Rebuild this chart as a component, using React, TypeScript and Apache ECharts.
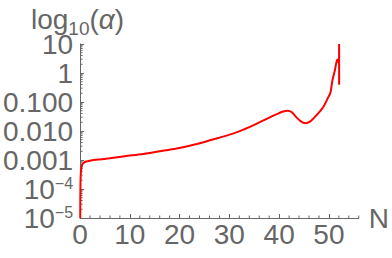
import React, { useEffect, useRef } from "react";
import * as echarts from "echarts";

// Data
const nValues = [
  0.03, 0.08, 0.2, 0.45, 0.75, 1.2, 2.0, 4.0, 6.0, 9.0, 12.7, 16, 19.4, 22, 25, 28,
  30.9, 33, 35, 37.5, 39.5, 40.8, 41.7, 42.5, 43.3, 44.3, 45.2, 46.2, 47.5,
  48.9, 49.9, 50.3, 50.7, 51.2, 51.7, 52.0, 52.05, 52.05,
];
const alphaValues = [
  1.0e-5, 1.5e-4, 4.5e-4, 7.0e-4, 8.1e-4, 8.9e-4, 9.5e-4, 1.05e-3, 1.15e-3, 1.35e-3,
  1.62e-3, 2.0e-3, 2.5e-3, 3.1e-3, 4.2e-3, 5.9e-3, 8.3e-3, 0.0115, 0.0162, 0.0263,
  0.038, 0.047, 0.05, 0.045, 0.032, 0.022, 0.0186, 0.021, 0.035, 0.069, 0.15, 0.21,
  0.55, 1.25, 2.9, 2.2, 10, 0.39,
];

const yTickValues = [1e-5, 1e-4, 0.001, 0.01, 0.1, 1, 10];
const yTickLabels = ["{b|10}{s|−5}", "{b|10}{s|−4}", "0.001", "0.010", "0.100", "1", "10"];
const xTickLabels = ["0", "10", "20", "30", "40", "50"];
const xMajorTicks = [0, 10, 20, 30, 40, 50];
const xMinorTicks = [2, 4, 6, 8, 12, 14, 16, 18, 22, 24, 26, 28, 32, 34, 36, 38, 42, 44, 46, 48, 52, 54, 56];
const yMinorMultipliers = [2, 3, 4, 5, 6, 7, 8, 9];

const GRAY = "#666666";
const FONT = "'Liberation Sans', Arial, Helvetica, sans-serif";

export default function App() {
  const ref = useRef<HTMLDivElement>(null);
  useEffect(() => {
    if (!ref.current) return;
    const chart = echarts.init(ref.current, undefined, { renderer: "svg" });
    const yMinor: number[][] = [];
    for (let i = 0; i < yTickValues.length - 1; i++) {
      for (const m of yMinorMultipliers) yMinor.push([0, yTickValues[i] * m]);
    }
    const xMinor = xMinorTicks.map((v) => [v, 1e-5]);
    chart.setOption({
      animation: false,
      textStyle: { fontFamily: FONT },
      title: {
        left: 26,
        top: 0,
        text: "{a|log}{sub|10}{a|(}{i|α}{a|)}",
        textStyle: {
          fontWeight: "normal",
          rich: {
            a: { fontSize: 28, color: GRAY, fontFamily: FONT, fontWeight: "normal", lineHeight: 28, verticalAlign: "top" },
            i: { fontSize: 28, color: GRAY, fontFamily: FONT, fontStyle: "italic", fontWeight: "normal", lineHeight: 28, verticalAlign: "top" },
            sub: { fontSize: 19, color: GRAY, fontFamily: FONT, fontWeight: "normal", lineHeight: 33, verticalAlign: "bottom" },
          },
        },
      },
      grid: { left: 79, top: 44, width: 281, height: 174, containLabel: false },
      xAxis: {
        type: "value",
        min: 0,
        max: 56,
        interval: 10,
        name: "N",
        nameLocation: "end",
        nameGap: 10,
        nameTextStyle: { fontSize: 28, color: GRAY, fontFamily: FONT, verticalAlign: "middle" },
        axisLine: { show: true, lineStyle: { color: GRAY, width: 1 } },
        axisTick: { show: true, inside: true, length: 4, lineStyle: { color: GRAY }, customValues: xMajorTicks },
        axisLabel: {
          show: true,
          margin: 2,
          fontSize: 28,
          color: GRAY,
          fontFamily: FONT,
          customValues: xMajorTicks,
          formatter: (v: number) => {
            const idx = xMajorTicks.indexOf(Math.round(v));
            return idx >= 0 ? xTickLabels[idx] : "";
          },
        },
        splitLine: { show: false },
      },
      yAxis: {
        type: "log",
        logBase: 10,
        min: 1e-5,
        max: 10,
        splitNumber: 6,
        axisLine: { show: true, lineStyle: { color: GRAY, width: 1 } },
        axisTick: { show: true, inside: true, length: 4, lineStyle: { color: GRAY } },
        axisLabel: {
          show: true,
          showMinLabel: true,
          showMaxLabel: true,
          margin: 7,
          fontSize: 28,
          color: GRAY,
          fontFamily: FONT,
          formatter: (v: number) => {
            const idx = Math.round(Math.log10(v)) + 5;
            return yTickLabels[idx] ?? "";
          },
          rich: {
            b: { fontSize: 28, color: GRAY, fontFamily: FONT, lineHeight: 28 },
            s: { fontSize: 16, color: GRAY, fontFamily: FONT, lineHeight: 16, verticalAlign: "top" },
          },
        },
        splitLine: { show: false },
      },
      series: [
        {
          type: "line",
          data: nValues.map((n, i) => [n, alphaValues[i]]),
          showSymbol: false,
          symbol: "none",
          smooth: 0.3,
          lineStyle: { color: "#ff0000", width: 2 },
          clip: true,
        },
        {
          type: "custom",
          silent: true,
          clip: false,
          data: yMinor,
          renderItem: (params: any, api: any) => {
            const p = api.coord([0, api.value(1)]);
            return {
              type: "line",
              shape: { x1: p[0], y1: p[1], x2: p[0] + 2.5, y2: p[1] },
              style: { stroke: GRAY, lineWidth: 1 },
            };
          },
        },
        {
          type: "custom",
          silent: true,
          clip: false,
          data: xMinor,
          renderItem: (params: any, api: any) => {
            const p = api.coord([api.value(0), 1e-5]);
            return {
              type: "line",
              shape: { x1: p[0], y1: p[1], x2: p[0], y2: p[1] - 2.5 },
              style: { stroke: GRAY, lineWidth: 1 },
            };
          },
        },
      ],
    });
    return () => chart.dispose();
  }, []);
  return (
    <div
      ref={ref}
      style={{ position: "absolute", left: 0, top: 0, width: 392, height: 258, background: "#fff" }}
    />
  );
}
